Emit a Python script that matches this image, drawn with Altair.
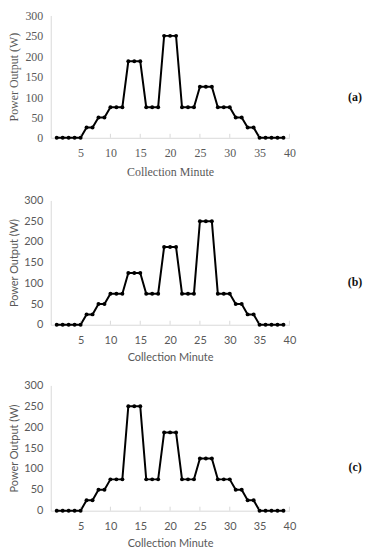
import altair as alt
import pandas as pd

minutes = list(range(1, 40))
power_a = [0, 0, 0, 0, 0, 25, 25, 50, 50, 75, 75, 75, 187.5, 187.5, 187.5, 75, 75, 75,
           250, 250, 250, 75, 75, 75, 125, 125, 125, 75, 75, 75, 50, 50, 25, 25, 0, 0, 0, 0, 0]
power_b = [0, 0, 0, 0, 0, 25, 25, 50, 50, 75, 75, 75, 125, 125, 125, 75, 75, 75,
           187.5, 187.5, 187.5, 75, 75, 75, 250, 250, 250, 75, 75, 75, 50, 50, 25, 25, 0, 0, 0, 0, 0]
power_c = [0, 0, 0, 0, 0, 25, 25, 50, 50, 75, 75, 75, 250, 250, 250, 75, 75, 75,
           187.5, 187.5, 187.5, 75, 75, 75, 125, 125, 125, 75, 75, 75, 50, 50, 25, 25, 0, 0, 0, 0, 0]
panel_labels = ["(a)", "(b)", "(c)"]
x_ticks = [5, 10, 15, 20, 25, 30, 35, 40]
y_ticks = [0, 50, 100, 150, 200, 250, 300]

SERIF = "Liberation Serif"
SANS = "Lato"
GRAY = "#595959"
LINE = "#d9d9d9"


def panel(values, label, font, fsize, height, title_pad):
    df = pd.DataFrame({"minute": minutes, "power": values})
    x_axis = alt.Axis(values=x_ticks, title="Collection Minute", grid=False,
                      labelFont=font, titleFont=font, labelFontSize=fsize,
                      titleFontSize=fsize, labelColor=GRAY, titleColor=GRAY,
                      titleFontWeight="normal", domainColor=LINE, ticks=False,
                      labelOverlap=False, labelFlush=False, labelPadding=10,
                      titlePadding=title_pad)
    y_axis = alt.Axis(values=y_ticks, title="Power Output (W)", grid=False,
                      labelFont=font, titleFont=font, labelFontSize=fsize,
                      titleFontSize=fsize, labelColor=GRAY, titleColor=GRAY,
                      titleFontWeight="normal", domainColor=LINE, ticks=False,
                      labelOverlap=False, labelFlush=False, labelPadding=8,
                      titlePadding=4)
    xs = alt.Scale(domain=[0, 40], nice=False, zero=True)
    ys = alt.Scale(domain=[0, 300], nice=False)
    x = alt.X("minute:Q", scale=xs, axis=x_axis)
    y = alt.Y("power:Q", scale=ys, axis=y_axis)
    base = alt.Chart(df).encode(x=x, y=y)
    line = base.mark_line(color="black", strokeWidth=2)
    pts = base.mark_point(filled=True, color="black", size=16, opacity=1)
    tdf = pd.DataFrame({"minute": x_ticks})
    ticks = alt.Chart(tdf).mark_rule(color=LINE, strokeWidth=1).encode(
        x=x, y=alt.value(height), y2=alt.value(height - 4))
    lab = alt.Chart(pd.DataFrame({"t": [label]})).mark_text(
        font=SERIF, fontWeight="bold", fontSize=12, color="#111111").encode(
        text="t:N", x=alt.value(306), y=alt.value(82))
    return alt.layer(line, ticks, pts, lab).properties(width=240, height=height)


chart = alt.vconcat(
    panel(power_a, panel_labels[0], SERIF, 12, 123, 8),
    panel(power_b, panel_labels[1], SANS, 11, 125, 6),
    panel(power_c, panel_labels[2], SANS, 11, 126, 6),
    spacing=17,
).configure(padding=0).configure_view(stroke=None)

chart.save("out.html", embed_options={"renderer": "svg", "actions": False})
